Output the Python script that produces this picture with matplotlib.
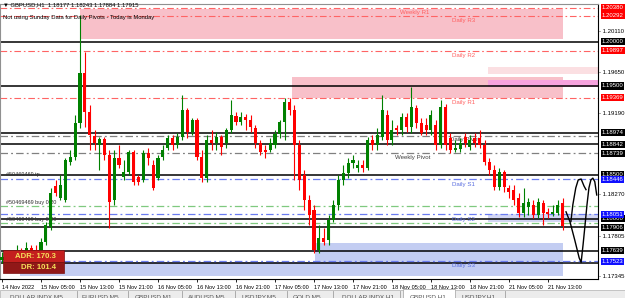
import numpy as np
import matplotlib.pyplot as plt
from matplotlib.patches import Rectangle

plt.rcParams['font.family'] = ['Liberation Sans', 'DejaVu Sans']

# ---- H1 candles, GBPUSD, 14 Nov 21:00 .. 21 Nov 16:00
opens = [1.1754, 1.1757, 1.1748, 1.1754, 1.1763, 1.1763, 1.1767, 1.1765, 1.1765, 1.1774,
         1.1791, 1.1837, 1.1824, 1.1821, 1.1864, 1.1870, 1.1908, 1.1965, 1.1921, 1.1894,
         1.1883, 1.1890, 1.1872, 1.1821, 1.1869, 1.1847, 1.1853, 1.1876, 1.1847, 1.1844,
         1.1874, 1.1861, 1.1846, 1.1870, 1.1880, 1.1891, 1.1883, 1.1892, 1.1923, 1.1898,
         1.1912, 1.1870, 1.1846, 1.1889, 1.1886, 1.1892, 1.1886, 1.1900, 1.1916, 1.1909,
         1.1915, 1.1912, 1.1903, 1.1886, 1.1878, 1.1878, 1.1883, 1.1896, 1.1909, 1.1932,
         1.1923, 1.1883, 1.1850, 1.1821, 1.1810, 1.1765, 1.1779, 1.1776, 1.1799, 1.1816,
         1.1844, 1.1852, 1.1863, 1.1857, 1.1861, 1.1857, 1.1889, 1.1883, 1.1892, 1.1917,
         1.1889, 1.1903, 1.1900, 1.1915, 1.1904, 1.1925, 1.1908, 1.1906, 1.1900, 1.1906,
         1.1883, 1.1926, 1.1891, 1.1878, 1.1879, 1.1892, 1.1881, 1.1891, 1.1891, 1.1883,
         1.1864, 1.1855, 1.1836, 1.1853, 1.1835, 1.1833, 1.1824, 1.1807, 1.1813, 1.1816,
         1.1804, 1.1818, 1.1808, 1.1806, 1.1807, 1.1818]
highs = [1.1763, 1.1759, 1.1756, 1.1771, 1.1767, 1.1774, 1.1771, 1.1771, 1.1779, 1.1797,
         1.1835, 1.1844, 1.1850, 1.1869, 1.1878, 1.1917, 1.2030, 1.1988, 1.1929, 1.1900,
         1.1892, 1.1892, 1.1878, 1.1878, 1.1883, 1.1867, 1.1878, 1.1878, 1.1850, 1.1878,
         1.1880, 1.1867, 1.1872, 1.1883, 1.1895, 1.1895, 1.1897, 1.1940, 1.1925, 1.1914,
         1.1914, 1.1878, 1.1895, 1.1900, 1.1898, 1.1895, 1.1903, 1.1934, 1.1921, 1.1921,
         1.1918, 1.1917, 1.1906, 1.1889, 1.1883, 1.1891, 1.1900, 1.1912, 1.1936, 1.1936,
         1.1929, 1.1889, 1.1855, 1.1827, 1.1816, 1.1793, 1.1790, 1.1804, 1.1821, 1.1850,
         1.1861, 1.1869, 1.1872, 1.1867, 1.1867, 1.1892, 1.1895, 1.1903, 1.1940, 1.1923,
         1.1912, 1.1906, 1.1920, 1.1920, 1.1949, 1.1929, 1.1914, 1.1914, 1.1923, 1.1912,
         1.1934, 1.1930, 1.1897, 1.1889, 1.1891, 1.1897, 1.1895, 1.1897, 1.1900, 1.1889,
         1.1869, 1.1861, 1.1857, 1.1855, 1.1838, 1.1838, 1.1829, 1.1835, 1.1824, 1.1821,
         1.1824, 1.1821, 1.1812, 1.1816, 1.1821, 1.1824]
lows = [1.1750, 1.1748, 1.1745, 1.1751, 1.1756, 1.1759, 1.1759, 1.1758, 1.1763, 1.1771,
        1.1788, 1.1826, 1.1821, 1.1819, 1.1861, 1.1867, 1.1903, 1.1904, 1.1878, 1.1878,
        1.1855, 1.1867, 1.1790, 1.1816, 1.1857, 1.1844, 1.1850, 1.1838, 1.1838, 1.1842,
        1.1861, 1.1833, 1.1844, 1.1867, 1.1878, 1.1878, 1.1880, 1.1889, 1.1891, 1.1895,
        1.1867, 1.1842, 1.1842, 1.1878, 1.1878, 1.1872, 1.1880, 1.1897, 1.1906, 1.1906,
        1.1900, 1.1898, 1.1880, 1.1872, 1.1869, 1.1876, 1.1880, 1.1891, 1.1889, 1.1917,
        1.1844, 1.1833, 1.1810, 1.1793, 1.1762, 1.1762, 1.1771, 1.1771, 1.1797, 1.1810,
        1.1838, 1.1846, 1.1857, 1.1853, 1.1853, 1.1855, 1.1878, 1.1878, 1.1889, 1.1883,
        1.1883, 1.1895, 1.1895, 1.1898, 1.1897, 1.1903, 1.1895, 1.1895, 1.1895, 1.1878,
        1.1880, 1.1878, 1.1874, 1.1876, 1.1876, 1.1881, 1.1878, 1.1881, 1.1880, 1.1861,
        1.1850, 1.1833, 1.1833, 1.1830, 1.1824, 1.1816, 1.1802, 1.1802, 1.1804, 1.1801,
        1.1801, 1.1793, 1.1801, 1.1803, 1.1804, 1.1788]
closes = [1.1757, 1.1754, 1.1751, 1.1763, 1.1759, 1.1767, 1.1763, 1.1762, 1.1774, 1.1793,
          1.1829, 1.1829, 1.1838, 1.1867, 1.1870, 1.1908, 1.1965, 1.1921, 1.1895, 1.1886,
          1.1890, 1.1872, 1.1819, 1.1869, 1.1861, 1.1853, 1.1876, 1.1842, 1.1842, 1.1874,
          1.1869, 1.1835, 1.1869, 1.1878, 1.1891, 1.1883, 1.1892, 1.1923, 1.1898, 1.1912,
          1.1870, 1.1846, 1.1889, 1.1886, 1.1892, 1.1881, 1.1900, 1.1917, 1.1909, 1.1915,
          1.1912, 1.1904, 1.1886, 1.1876, 1.1876, 1.1886, 1.1896, 1.1909, 1.1932, 1.1923,
          1.1883, 1.1844, 1.1821, 1.1804, 1.1765, 1.1779, 1.1774, 1.1799, 1.1816, 1.1844,
          1.1852, 1.1863, 1.1867, 1.1861, 1.1857, 1.1889, 1.1883, 1.1895, 1.1923, 1.1889,
          1.1900, 1.1900, 1.1915, 1.1904, 1.1926, 1.1908, 1.1897, 1.1900, 1.1917, 1.1883,
          1.1926, 1.1883, 1.1878, 1.1880, 1.1886, 1.1886, 1.1889, 1.1886, 1.1883, 1.1864,
          1.1855, 1.1836, 1.1853, 1.1836, 1.1830, 1.1821, 1.1807, 1.1818, 1.1819, 1.1804,
          1.1819, 1.1807, 1.1806, 1.1808, 1.1816, 1.1792]

time_labels = ['14 Nov 2022', '15 Nov 05:00', '15 Nov 13:00', '15 Nov 21:00',
               '16 Nov 05:00', '16 Nov 13:00', '16 Nov 21:00', '17 Nov 05:00',
               '17 Nov 13:00', '17 Nov 21:00', '18 Nov 05:00', '18 Nov 13:00',
               '18 Nov 21:00', '21 Nov 05:00', '21 Nov 13:00']

# pivot levels
res_levels = [1.20380, 1.20292, 1.19897, 1.19369]
res_names = ['Weekly R1', 'Daily R3', 'Daily R2', 'Daily R1']
sup_levels = [1.18446, 1.18051, 1.17523]
sup_names = ['Daily S1', 'Daily S2', 'Daily S3']
piv_levels = [1.18940, 1.18739]
piv_names = ['Daily Pivot', 'Weekly Pivot']
black_levels = [1.20000, 1.19500, 1.18974, 1.18842, 1.18500, 1.18000, 1.17906, 1.17639, 1.17505]
trade_levels = [1.18146, 1.17954]

# zones: start bar, end bar, low, high
zone_x0 = [16, 59.5, 99.7, 99.7, 3.7, 64.2, 99.7]
zone_x1 = [115, 115, 123, 123, 115, 115, 123]
zone_lo = [1.2003, 1.19364, 1.19488, 1.19635, 1.17356, 1.17514, 1.17965]
zone_hi = [1.2037, 1.19600, 1.19567, 1.19714, 1.17514, 1.17728, 1.18055]
zone_col = ['#f8c0c9', '#f8c0c9', '#f7a3de', '#fbdfe2', '#c3cdf2', '#c3cdf2', '#d2d6f4']

# price scale labels
plain_ticks = [1.20110, 1.19650, 1.19190, 1.18270, 1.17805, 1.17345]
box_ticks = [1.20000, 1.19500, 1.18974, 1.18842, 1.18739, 1.18500, 1.18000, 1.17906, 1.17639,
             1.20380, 1.20292, 1.19897, 1.19369, 1.18446, 1.18051, 1.17523]
box_cols = ['black'] * 9 + ['#ff0000'] * 4 + ['#1010ff'] * 3

# hand drawn projection (bar, price)
sketch1_x = [115.7, 116.5, 117.5, 118.4, 118.8, 119.2, 119.6, 120.0, 120.4, 120.8, 121.2, 121.6, 122.0]
sketch1_y = [1.1808, 1.1797, 1.1776, 1.1756, 1.1751, 1.1771, 1.1793, 1.1816, 1.1835, 1.1844, 1.1846, 1.1842, 1.1827]
sketch2_x = [116.7, 117.1, 117.7, 118.2, 118.8, 119.4, 119.8]
sketch2_y = [1.1797, 1.1816, 1.1835, 1.1844, 1.1845, 1.1837, 1.1833]

tabs = ['DOLLAR INDX,M5', 'EURUSD,M5', 'GBPUSD,M1', 'AUDUSD,M5', 'USDJPY,M5',
        'GOLD,M5', 'DOLLAR INDX,H1', 'GBPUSD,H1', 'USDJPY,H1']
tab_px = [10, 82, 135, 188, 241, 293, 342, 410, 462]

W, H = 625, 298
fig = plt.figure(figsize=(W / 100, H / 100), dpi=100)
ax = fig.add_axes([0, 19 / H, 598 / W, 275 / H])
ax.set_xlim(-0.41, 122.26)
ax.set_ylim(1.17322, 1.20425)

# zones
for x0, x1, lo, hi, col in zip(zone_x0, zone_x1, zone_lo, zone_hi, zone_col):
    ax.add_patch(Rectangle((x0, lo), x1 - x0, hi - lo, color=col, lw=0, zorder=1))

# level lines
for lv in black_levels:
    ax.axhline(lv, color='black', lw=1.1, zorder=2)
for lv in res_levels:
    ax.axhline(lv, color='#ff6464', lw=0.8, ls=(0, (6, 2.5, 1.5, 2.5)), zorder=2)
for lv in sup_levels:
    ax.axhline(lv, color='#6a7cf0', lw=0.9, ls=(0, (6, 2.5, 1.5, 2.5)), zorder=2)
for lv in piv_levels:
    ax.axhline(lv, color='#808080', lw=0.9, ls=(0, (6, 2.5, 1.5, 2.5)), zorder=2)
for lv in trade_levels:
    ax.axhline(lv, color='#7fc97f', lw=0.9, ls=(0, (6, 2.5, 1.5, 2.5)), zorder=2)

# level names
lab_x = [81.6, 92.3, 92.3, 92.3]
for lv, name, lx in zip(res_levels, res_names, lab_x):
    ax.text(lx, lv - 0.00025, name, color='#ff6060', fontsize=4.4, va='top', zorder=3)
for lv, name in zip(sup_levels, sup_names):
    ax.text(92.3, lv - 0.00025, name, color='#5a6ee0', fontsize=4.4, va='top', zorder=3)
for lv, name, lx in zip(piv_levels, piv_names, [91.9, 80.6]):
    ax.text(lx, lv - 0.00018, name, color='#404040', fontsize=4.4, va='top', zorder=3)

ax.text(0.8, 1.18500, '#50469469 tp', fontsize=4.0, va='center', color='#303030', zorder=3)
ax.text(0.8, trade_levels[0] + 0.00008, '#50469469 buy 0.20', fontsize=4.0, va='bottom', color='#303030', zorder=3)
ax.text(0.8, trade_levels[1] + 0.00008, '#50469469 buy 0.20', fontsize=4.0, va='bottom', color='#303030', zorder=3)

# candles
o = np.array(opens)
c = np.array(closes)
x = np.arange(len(o))
cols = np.where(c >= o, '#008000', '#ff0000')
ax.vlines(x, lows, highs, colors=cols, lw=0.8, zorder=4)
body = np.maximum(np.abs(c - o), 0.00005)
ax.bar(x, body, bottom=np.minimum(o, c), width=0.62, color=cols, lw=0, zorder=5)

# sketch
ax.plot(sketch1_x, sketch1_y, color='black', lw=1.0, zorder=6, clip_on=False)
ax.plot(sketch2_x, sketch2_y, color='black', lw=1.0, zorder=6, clip_on=False)

# axes styling
for s in ['left', 'top']:
    ax.spines[s].set_color('#909090')
    ax.spines[s].set_linewidth(0.8)
ax.spines['right'].set_linewidth(0.8)
ax.spines['bottom'].set_linewidth(0.8)
ax.set_yticks([])
ax.set_xticks(range(0, 8 * len(time_labels), 8))
ax.set_xticklabels(time_labels, fontsize=4.1, ha='left')
ax.tick_params(axis='x', length=2.5, width=0.6, pad=1.5)

# right price scale
ytr = ax.get_yaxis_transform()
for p in plain_ticks:
    ax.text(1.002, p, '- %.5f' % p, transform=ytr, fontsize=4.3, va='center', ha='left', clip_on=False)
for p, bc in zip(box_ticks, box_cols):
    ax.text(1.006, p, '%.5f' % p, transform=ytr, fontsize=4.3, va='center', ha='left', color='white',
            clip_on=False, bbox=dict(boxstyle='square,pad=0.18', fc=bc, ec='none'))

# header
fig.text(3 / W, 1 - 5 / H, '\u25bc GBPUSD,H1  1.18177 1.18243 1.17884 1.17915', fontsize=4.2, va='center')
fig.text(3 / W, 1 - 17 / H, 'Not using Sunday Data for Daily Pivots - Today is Monday', fontsize=4.2, va='center')

# ADR box
fig.add_artist(Rectangle((3 / W, 1 - 262 / H), 61 / W, 12 / H, transform=fig.transFigure, fc='#c41f1e', ec='#7a1010', lw=0.5))
fig.add_artist(Rectangle((3 / W, 1 - 273 / H), 61 / W, 11 / H, transform=fig.transFigure, fc='#911818', ec='#7a1010', lw=0.5))
fig.text(56 / W, 1 - 256.5 / H, 'ADR: 170.3', fontsize=5.6, weight='bold', color='#f6e35a', ha='right', va='center')
fig.text(56 / W, 1 - 267.5 / H, 'DR: 101.4', fontsize=5.6, weight='bold', color='#f6e35a', ha='right', va='center')

# tab bar
fig.add_artist(Rectangle((0, 0), 1, 8 / H, transform=fig.transFigure, fc='#ececec', ec='#b0b0b0', lw=0.5))
fig.add_artist(Rectangle((403 / W, 0), 52 / W, 9 / H, transform=fig.transFigure, fc='white', ec='#a0a0a0', lw=0.5))
for name, px in zip(tabs, tab_px):
    fig.text(px / W, 1.5 / H, name, fontsize=4.6, color='#555555', va='center')
for sep in [77, 128, 182, 235, 287, 333, 400, 505]:
    fig.add_artist(plt.Line2D([sep / W, sep / W], [0, 7 / H], transform=fig.transFigure, color='#a0a0a0', lw=0.6))

fig.savefig('out.png', dpi=100)
